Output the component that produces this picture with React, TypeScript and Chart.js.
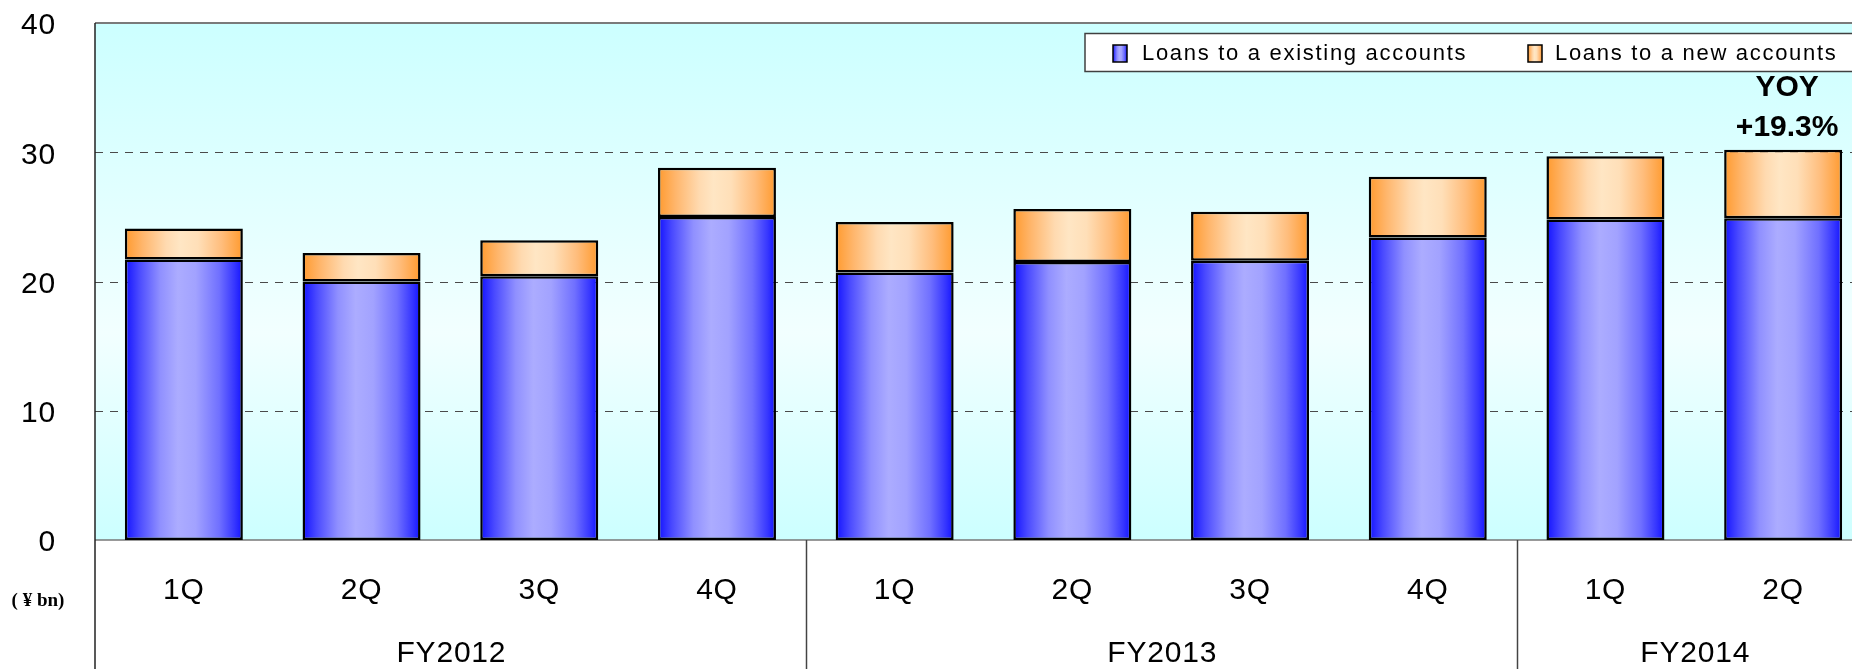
import React, { useEffect, useRef } from 'react';
import { Chart, registerables } from 'chart.js';

Chart.register(...registerables);

// ---- data ----
const quarterLabels = ['1Q', '2Q', '3Q', '4Q', '1Q', '2Q', '3Q', '4Q', '1Q', '2Q'];
const fiscalYears = ['FY2012', 'FY2013', 'FY2014'];
const fiscalYearSpans = [4, 4, 2];
const existingLoans = [21.7, 20.0, 20.4, 25.0, 20.7, 21.5, 21.6, 23.4, 24.8, 24.9];
const newLoans = [2.4, 2.2, 2.8, 3.8, 3.9, 4.1, 3.8, 4.7, 4.9, 5.3];
const seriesNames = ['Loans to a existing accounts', 'Loans to a new accounts'];
const yTickMin = 0;
const yTickMax = 40;
const yTickStep = 10;
const yoyLines = ['YOY', '+19.3%'];
const yoyIndex = 9;
const unitLabel = '( \u00A5 bn)';

// ---- styles ----
const FONT = '"Liberation Sans", Arial, sans-serif';
const AXIS_SPACING = '0.8px';
const AXIS_SIZE = 30;
const BAR_PCT = 0.664;
const blueStops: [number, string][] = [
  [0, '#1212ff'], [0.12, '#4a4aff'], [0.3, '#9090ff'], [0.45, '#acacff'],
  [0.6, '#a2a2ff'], [0.8, '#7070ff'], [0.93, '#3636ff'], [1, '#1212ff'],
];
const orangeStops: [number, string][] = [
  [0, '#ff9a2e'], [0.15, '#ffb66c'], [0.35, '#ffdab0'], [0.47, '#ffe6c4'],
  [0.62, '#ffdfb8'], [0.82, '#ffbd7c'], [1, '#ff9a2e'],
];

function hGrad(ctx: CanvasRenderingContext2D, x0: number, x1: number, stops: [number, string][]) {
  const g = ctx.createLinearGradient(x0, 0, x1, 0);
  stops.forEach(([o, c]) => g.addColorStop(o, c));
  return g;
}

function barFill(stops: [number, string][], fallback: string) {
  return (c: any) => {
    const chart = c.chart;
    const xs = chart.scales && chart.scales.x;
    if (!xs || c.dataIndex === undefined || !chart.chartArea) return fallback;
    const cat = (xs.right - xs.left) / quarterLabels.length;
    const w = cat * BAR_PCT;
    const cx = xs.getPixelForValue(c.dataIndex);
    return hGrad(chart.ctx, cx - w / 2, cx + w / 2, stops);
  };
}

function zeroPad(s: any) {
  s.paddingTop = 0;
  s.paddingBottom = 0;
  s.paddingLeft = 0;
  s.paddingRight = 0;
}

const decorPlugin = {
  id: 'decor',
  beforeLayout(chart: any) {
    chart.ctx.letterSpacing = AXIS_SPACING;
  },
  beforeDraw(chart: any) {
    const { ctx, chartArea: a } = chart;
    ctx.letterSpacing = AXIS_SPACING;
    ctx.save();
    const g = ctx.createLinearGradient(0, a.top, 0, a.bottom);
    g.addColorStop(0, '#ccffff');
    g.addColorStop(0.6, '#f2ffff');
    g.addColorStop(1, '#ccffff');
    ctx.fillStyle = g;
    ctx.fillRect(a.left, a.top, a.right - a.left, a.bottom - a.top);
    ctx.restore();
  },
  beforeDatasetsDraw(chart: any) {
    const { ctx, chartArea: a, scales } = chart;
    const ys = scales.y;
    ctx.save();
    for (let v = yTickMin + yTickStep; v < yTickMax; v += yTickStep) {
      const y = Math.round(ys.getPixelForValue(v)) + 0.5;
      ctx.beginPath();
      ctx.setLineDash([8, 7]);
      ctx.strokeStyle = '#4a4a4a';
      ctx.lineWidth = 1;
      ctx.moveTo(a.left, y);
      ctx.lineTo(a.right, y);
      ctx.stroke();
    }
    ctx.setLineDash([]);
    ctx.strokeStyle = '#7a7a7a';
    ctx.lineWidth = 2;
    ctx.beginPath();
    ctx.moveTo(a.left, ys.getPixelForValue(yTickMax));
    ctx.lineTo(a.right, ys.getPixelForValue(yTickMax));
    ctx.stroke();
    ctx.lineWidth = 1.5;
    ctx.strokeStyle = '#777';
    ctx.beginPath();
    ctx.moveTo(a.left, ys.getPixelForValue(yTickMin));
    ctx.lineTo(a.right, ys.getPixelForValue(yTickMin));
    ctx.stroke();
    ctx.restore();
  },
  afterDraw(chart: any) {
    const { ctx, chartArea: a, scales } = chart;
    const xs = scales.x;
    const H = chart.height;
    ctx.save();
    // left axis
    ctx.strokeStyle = '#222';
    ctx.lineWidth = 1.5;
    ctx.beginPath();
    ctx.moveTo(a.left, a.top);
    ctx.lineTo(a.left, H);
    ctx.stroke();
    // group separators + FY labels
    const cat = (xs.right - xs.left) / quarterLabels.length;
    let start = 0;
    ctx.font = `${AXIS_SIZE}px ${FONT}`;
    ctx.fillStyle = '#000';
    ctx.textAlign = 'center';
    ctx.textBaseline = 'middle';
    ctx.letterSpacing = AXIS_SPACING;
    fiscalYears.forEach((fy, i) => {
      const end = start + fiscalYearSpans[i];
      const x0 = xs.getPixelForValue(start) - cat / 2;
      const x1 = xs.getPixelForValue(end - 1) + cat / 2;
      if (i > 0) {
        ctx.strokeStyle = '#444';
        ctx.lineWidth = 1.5;
        ctx.beginPath();
        ctx.moveTo(Math.round(x0) + 0.5, a.bottom);
        ctx.lineTo(Math.round(x0) + 0.5, H);
        ctx.stroke();
      }
      ctx.fillText(fy, (x0 + x1) / 2 + 1, 654);
      start = end;
    });
    // unit label
    ctx.letterSpacing = '0px';
    ctx.font = `bold 19px "Liberation Serif", "Times New Roman", serif`;
    ctx.fillText(unitLabel, 38, 601);
    // YOY
    ctx.font = `bold 30px ${FONT}`;
    const yx = xs.getPixelForValue(yoyIndex) + 4;
    ctx.fillText(yoyLines[0], yx, 88);
    ctx.fillText(yoyLines[1], yx, 128);
    // legend
    const lx = 1085, ly = 33.5, lh = 38;
    ctx.fillStyle = '#fff';
    ctx.fillRect(lx, ly, chart.width - lx + 20, lh);
    ctx.strokeStyle = '#404040';
    ctx.lineWidth = 1.5;
    ctx.strokeRect(lx, ly, chart.width - lx + 20, lh);
    const items = [
      { sx: 1113, tx: 1142, stops: blueStops },
      { sx: 1528, tx: 1555, stops: orangeStops },
    ];
    ctx.font = `22px ${FONT}`;
    ctx.letterSpacing = '1.7px';
    ctx.textAlign = 'left';
    items.forEach((it, i) => {
      ctx.fillStyle = hGrad(ctx, it.sx, it.sx + 14, it.stops);
      ctx.fillRect(it.sx, 45, 14, 17);
      ctx.strokeStyle = '#000';
      ctx.lineWidth = 1.5;
      ctx.strokeRect(it.sx, 45, 14, 17);
      ctx.fillStyle = '#000';
      ctx.fillText(seriesNames[i], it.tx, 54);
    });
    ctx.restore();
  },
};

export default function App() {
  const ref = useRef<HTMLCanvasElement | null>(null);
  useEffect(() => {
    if (!ref.current) return;
    const chart = new Chart(ref.current, {
      type: 'bar',
      data: {
        labels: quarterLabels,
        datasets: [
          {
            label: seriesNames[0],
            data: existingLoans,
            backgroundColor: barFill(blueStops, '#8888ff') as any,
            borderColor: '#000',
            borderWidth: 2.5,
            borderSkipped: false,
            barPercentage: BAR_PCT,
            categoryPercentage: 1,
          },
          {
            label: seriesNames[1],
            data: newLoans,
            backgroundColor: barFill(orangeStops, '#ffcc99') as any,
            borderColor: '#000',
            borderWidth: 2.5,
            borderSkipped: false,
            barPercentage: BAR_PCT,
            categoryPercentage: 1,
          },
        ],
      },
      options: {
        responsive: false,
        devicePixelRatio: 1,
        animation: false,
        layout: { padding: { top: 23, left: 0, right: 0, bottom: 0 } },
        plugins: { legend: { display: false }, tooltip: { enabled: false } },
        scales: {
          x: {
            stacked: true,
            grid: { display: false, drawTicks: false },
            border: { display: false },
            ticks: { font: { family: FONT, size: AXIS_SIZE }, color: '#000', padding: 33, maxRotation: 0, autoSkip: false },
            afterFit: (s: any) => { s.height = 129; zeroPad(s); },
          },
          y: {
            stacked: true,
            min: yTickMin,
            max: yTickMax,
            grid: { display: false, drawTicks: false },
            border: { display: false },
            ticks: { stepSize: yTickStep, font: { family: FONT, size: AXIS_SIZE }, color: '#000', padding: 39, labelOffset: 3 },
            afterFit: (s: any) => { s.width = 95; zeroPad(s); },
          },
        },
      },
      plugins: [decorPlugin],
    });
    return () => chart.destroy();
  }, []);
  return (
    <div style={{ position: 'fixed', left: 0, top: 0, width: 1852, height: 669, overflow: 'hidden', background: '#fff' }}>
      <canvas ref={ref} width={1872} height={669} style={{ display: 'block', width: 1872, height: 669 }} />
    </div>
  );
}
